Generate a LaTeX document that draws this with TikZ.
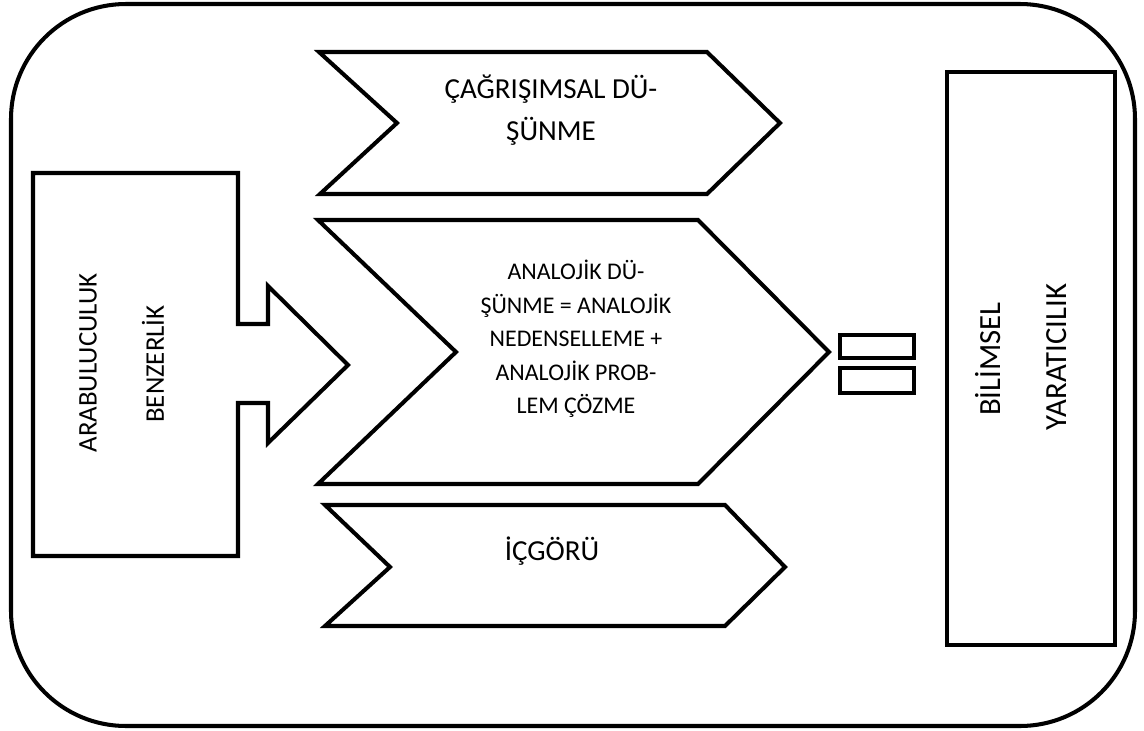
\documentclass[tikz,border=0pt]{standalone}
\usepackage{fontspec}
\setmainfont{Carlito}
\usetikzlibrary{positioning}

\begin{document}
\begin{tikzpicture}[x=0.02cm, y=-0.02cm,
    outline/.style={draw, line width=2.3pt, line join=miter},
    thin outline/.style={draw, line width=2pt},
    chevtext/.style={font=\fontsize{16.5}{23.5}\selectfont, align=center},
    midtext/.style={font=\fontsize{13.6}{19}\selectfont, align=center},
    sidetext/.style={font=\fontsize{15.3}{18}\selectfont, rotate=90},
    bigside/.style={sidetext, font=\fontsize{17.5}{20}\selectfont}
]
\useasboundingbox (0,0) rectangle (1144,731);

% frame
\draw[outline, rounded corners=2.3cm] (11,4) rectangle (1135,726);

% left box with arrow
\draw[outline] (33,173) -- (238,173) -- (238,324) -- (268,324) -- (268,286)
    -- (348,365) -- (268,443) -- (268,403) -- (238,403) -- (238,556)
    -- (33,556) -- cycle;
\node[sidetext] (arabulucu) at (88,363) {ARABULUCULUK};
\node[sidetext] (benzerlik) at (153,364) {BENZERLİK};

% chevrons
\draw[outline] (319,52) -- (707,52) -- (780,123) -- (707,194) -- (320,194) -- (397,123) -- cycle;
\node[chevtext] (cagrisim) at (551,110) {ÇAĞRIŞIMSAL DÜ-\\ŞÜNME};

\draw[outline] (318,220) -- (698,220) -- (829,352) -- (698,484) -- (318,484) -- (456,352) -- cycle;
\node[midtext] (analoji) at (576,339) {ANALOJİK DÜ-\\ŞÜNME = ANALOJİK\\NEDENSELLEME +\\ANALOJİK PROB-\\LEM ÇÖZME};

\draw[outline] (325,505) -- (725,505) -- (785,567) -- (725,626) -- (325,626) -- (390,567) -- cycle;
\node[chevtext] (icgoru) at (552,551) {İÇGÖRÜ};

% equals sign
\draw[thin outline] (840,335) rectangle (914,358);
\draw[thin outline] (840,368) rectangle (914,393);

% right box
\draw[outline] (947,72) rectangle (1115,645);
\node[bigside] (bilimsel) at (988,359) {BİLİMSEL};
\node[bigside] (yaraticilik) at (1057,357) {YARATICILIK};
\end{tikzpicture}
\end{document}
